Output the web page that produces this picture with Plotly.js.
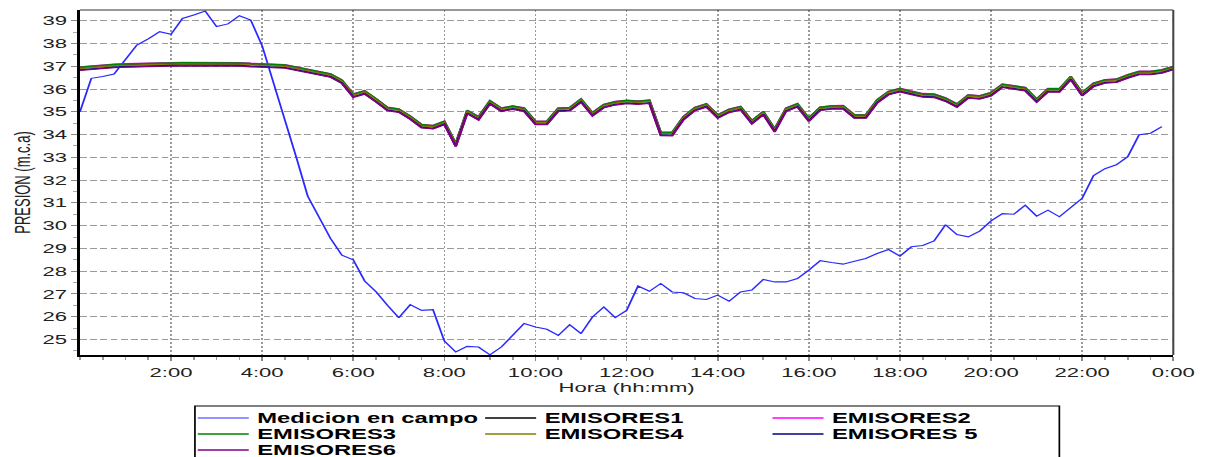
<!DOCTYPE html>
<html><head><meta charset="utf-8">
<script src="https://cdn.plot.ly/plotly-3.0.1.min.js"></script>
<style>
html,body{margin:0;padding:0;background:#fff;overflow:hidden;}
#wrap{width:711px;height:480px;transform:scaleX(1.70042);transform-origin:0 0;}
</style></head><body>
<div id="wrap"></div>
<script>
// time of day in hours (15-minute sampling)
const hours = [0,0.25,0.5,0.75,1,1.25,1.5,1.75,2,2.25,2.5,2.75,3,3.25,3.5,3.75,4,4.25,4.5,4.75,5,5.25,5.5,5.75,6,6.25,6.5,6.75,7,7.25,7.5,7.75,8,8.25,8.5,8.75,9,9.25,9.5,9.75,10,10.25,10.5,10.75,11,11.25,11.5,11.75,12,12.25,12.5,12.75,13,13.25,13.5,13.75,14,14.25,14.5,14.75,15,15.25,15.5,15.75,16,16.25,16.5,16.75,17,17.25,17.5,17.75,18,18.25,18.5,18.75,19,19.25,19.5,19.75,20,20.25,20.5,20.75,21,21.25,21.5,21.75,22,22.25,22.5,22.75,23,23.25,23.5,23.75,24];

const medicionEnCampo = [35.00,36.47,36.55,36.66,37.30,37.93,38.20,38.52,38.40,39.10,39.25,39.42,38.74,38.86,39.22,39.03,37.90,36.30,34.65,33.00,31.30,30.40,29.44,28.70,28.50,27.57,27.10,26.50,25.96,26.53,26.28,26.31,24.93,24.45,24.70,24.67,24.33,24.67,25.18,25.70,25.55,25.45,25.18,25.65,25.26,25.99,26.43,25.96,26.28,27.35,27.12,27.46,27.09,27.05,26.80,26.76,26.95,26.68,27.09,27.17,27.64,27.53,27.53,27.68,28.05,28.46,28.38,28.31,28.44,28.56,28.78,28.95,28.66,29.07,29.13,29.33,30.04,29.61,29.51,29.76,30.21,30.53,30.50,30.90,30.42,30.68,30.39,30.80,31.20,32.20,32.50,32.67,33.03,33.99,34.06,34.35];

const emisores1 = [36.94,36.99,37.02,37.06,37.08,37.10,37.11,37.12,37.13,37.14,37.14,37.14,37.14,37.14,37.13,37.10,37.07,37.06,37.04,36.94,36.84,36.76,36.64,36.37,35.76,35.90,35.56,35.17,35.10,34.79,34.42,34.37,34.56,33.59,35.04,34.76,35.46,35.14,35.23,35.14,34.56,34.56,35.14,35.16,35.54,34.94,35.30,35.42,35.48,35.45,35.49,34.08,34.07,34.77,35.17,35.33,34.84,35.09,35.21,34.59,34.99,34.23,35.14,35.33,34.70,35.18,35.24,35.25,34.84,34.84,35.50,35.87,36.00,35.87,35.77,35.75,35.58,35.32,35.72,35.68,35.82,36.19,36.13,36.04,35.54,35.99,35.99,36.53,35.82,36.23,36.38,36.41,36.60,36.75,36.75,36.82,36.97];

const emisores2 = [36.97,37.02,37.05,37.09,37.11,37.13,37.14,37.15,37.16,37.17,37.17,37.17,37.17,37.17,37.16,37.13,37.10,37.09,37.07,36.97,36.87,36.79,36.67,36.40,35.79,35.93,35.59,35.20,35.13,34.82,34.45,34.40,34.59,33.62,35.07,34.79,35.49,35.17,35.26,35.17,34.59,34.59,35.17,35.19,35.57,34.97,35.33,35.45,35.51,35.48,35.52,34.11,34.10,34.80,35.20,35.36,34.87,35.12,35.24,34.62,35.02,34.26,35.17,35.36,34.73,35.21,35.27,35.28,34.87,34.87,35.53,35.90,36.03,35.90,35.80,35.78,35.61,35.35,35.75,35.71,35.85,36.22,36.16,36.07,35.57,36.02,36.02,36.56,35.85,36.26,36.41,36.44,36.63,36.78,36.78,36.85,37.00];

const emisores3 = [36.96,37.01,37.04,37.08,37.10,37.12,37.13,37.14,37.15,37.16,37.16,37.16,37.16,37.16,37.15,37.12,37.09,37.08,37.06,36.96,36.86,36.78,36.66,36.39,35.78,35.92,35.58,35.19,35.12,34.81,34.44,34.39,34.58,33.61,35.06,34.78,35.48,35.16,35.25,35.16,34.58,34.58,35.16,35.18,35.56,34.96,35.32,35.44,35.50,35.47,35.51,34.10,34.09,34.79,35.19,35.35,34.86,35.11,35.23,34.61,35.01,34.25,35.16,35.35,34.72,35.20,35.26,35.27,34.86,34.86,35.52,35.89,36.02,35.89,35.79,35.77,35.60,35.34,35.74,35.70,35.84,36.21,36.15,36.06,35.56,36.01,36.01,36.55,35.84,36.25,36.40,36.43,36.62,36.77,36.77,36.84,36.99];

const emisores4 = [36.90,36.95,36.98,37.02,37.04,37.06,37.07,37.08,37.09,37.10,37.10,37.10,37.10,37.10,37.09,37.06,37.03,37.02,37.00,36.90,36.80,36.72,36.60,36.33,35.72,35.86,35.52,35.13,35.06,34.75,34.38,34.33,34.52,33.55,35.00,34.72,35.42,35.10,35.19,35.10,34.52,34.52,35.10,35.12,35.50,34.90,35.26,35.38,35.44,35.41,35.45,34.04,34.03,34.73,35.13,35.29,34.80,35.05,35.17,34.55,34.95,34.19,35.10,35.29,34.66,35.14,35.20,35.21,34.80,34.80,35.46,35.83,35.96,35.83,35.73,35.71,35.54,35.28,35.68,35.64,35.78,36.15,36.09,36.00,35.50,35.95,35.95,36.49,35.78,36.19,36.34,36.37,36.56,36.71,36.71,36.78,36.93];

const emisores5 = [36.84,36.89,36.92,36.96,36.98,37.00,37.01,37.02,37.03,37.04,37.04,37.04,37.04,37.04,37.03,37.00,36.97,36.96,36.94,36.84,36.74,36.66,36.54,36.27,35.66,35.80,35.46,35.07,35.00,34.69,34.32,34.27,34.46,33.49,34.94,34.66,35.36,35.04,35.13,35.04,34.46,34.46,35.04,35.06,35.44,34.84,35.20,35.32,35.38,35.35,35.39,33.98,33.97,34.67,35.07,35.23,34.74,34.99,35.11,34.49,34.89,34.13,35.04,35.23,34.60,35.08,35.14,35.15,34.74,34.74,35.40,35.77,35.90,35.77,35.67,35.65,35.48,35.22,35.62,35.58,35.72,36.09,36.03,35.94,35.44,35.89,35.89,36.43,35.72,36.13,36.28,36.31,36.50,36.65,36.65,36.72,36.87];

const emisores6 = [36.82,36.87,36.90,36.94,36.96,36.98,36.99,37.00,37.01,37.02,37.02,37.02,37.02,37.02,37.01,36.98,36.95,36.94,36.92,36.82,36.72,36.64,36.52,36.25,35.64,35.78,35.44,35.05,34.98,34.67,34.30,34.25,34.44,33.47,34.92,34.64,35.34,35.02,35.11,35.02,34.44,34.44,35.02,35.04,35.42,34.82,35.18,35.30,35.36,35.33,35.37,33.96,33.95,34.65,35.05,35.21,34.72,34.97,35.09,34.47,34.87,34.11,35.02,35.21,34.58,35.06,35.12,35.13,34.72,34.72,35.38,35.75,35.88,35.75,35.65,35.63,35.46,35.20,35.60,35.56,35.70,36.07,36.01,35.92,35.42,35.87,35.87,36.41,35.70,36.11,36.26,36.29,36.48,36.63,36.63,36.70,36.85];

const seriesNames = ["Medicion en campo","EMISORES1","EMISORES2","EMISORES3","EMISORES4","EMISORES 5","EMISORES6"];
const xTickValues = [2,4,6,8,10,12,14,16,18,20,22,24];
const xTickLabels = ["2:00","4:00","6:00","8:00","10:00","12:00","14:00","16:00","18:00","20:00","22:00","0:00"];
const yTickValues = [25,26,27,28,29,30,31,32,33,34,35,36,37,38,39];

const FONT = "Liberation Sans, Arial, sans-serif";
const seriesStyle = [
  {data: medicionEnCampo, color: "#2a2aff", width: 1.1, legend: "legend"},
  {data: emisores1, color: "#000000", width: 1.4, legend: "legend"},
  {data: emisores2, color: "#ff00ff", width: 1.4, legend: "legend"},
  {data: emisores3, color: "#008000", width: 1.4, legend: "legend2"},
  {data: emisores4, color: "#808000", width: 1.4, legend: "legend2"},
  {data: emisores5, color: "#000080", width: 1.4, legend: "legend2"},
  {data: emisores6, color: "#800080", width: 1.4, legend: "legend3"}
];
const traces = seriesStyle.map((s, i) => ({
  type: "scatter", mode: "lines",
  x: hours.slice(0, s.data.length), y: s.data,
  name: seriesNames[i], legend: s.legend,
  line: {color: s.color, width: s.width}
}));

const legendBase = {
  x: 0.1, xanchor: "left", yanchor: "top", orientation: "h",
  entrywidth: 124, entrywidthmode: "pixels", itemwidth: 30,
  bgcolor: "rgba(0,0,0,0)", borderwidth: 0, traceorder: "normal",
  font: {family: FONT, size: 14, color: "#000", weight: "bold"}
};

const layout = {
  width: 711, height: 480,
  margin: {l: 47, r: 21, t: 10, b: 125, autoexpand: false},
  paper_bgcolor: "#fff", plot_bgcolor: "#fff",
  xaxis: {
    range: [0, 24], tickvals: xTickValues, ticktext: xTickLabels,
    ticks: "outside", ticklen: 4, tickwidth: 1, tickcolor: "#888",
    showgrid: true, gridcolor: "#9a9a9a", gridwidth: 1, griddash: "2px,2px",
    showline: true, linecolor: "#000", linewidth: 2, zeroline: false, automargin: false,
    minor: {dtick: 0.5, tick0: 0, ticks: "outside", ticklen: 3, tickcolor: "#999", showgrid: false},
    tickfont: {family: FONT, size: 13, color: "#222"},
    title: {text: "Hora (hh:mm)", font: {family: FONT, size: 13, color: "#222"}, standoff: 0}
  },
  yaxis: {
    range: [24.32, 39.47], tickvals: yTickValues,
    ticks: "outside", ticklen: 3, tickwidth: 1, tickcolor: "#888",
    showgrid: true, gridcolor: "#9a9a9a", gridwidth: 1, griddash: "4px,2px",
    showline: true, linecolor: "#000", linewidth: 2, zeroline: false, automargin: false,
    minor: {dtick: 0.5, ticks: "outside", ticklen: 2, tickcolor: "#aaa", showgrid: false},
    tickfont: {family: FONT, size: 13, color: "#222"},
    title: {text: "PRESION (m.c.a)", font: {family: FONT, size: 13, color: "#222"}, standoff: 4}
  },
  legend: Object.assign({}, legendBase, {y: -0.1374}),
  legend2: Object.assign({}, legendBase, {y: -0.1838}),
  legend3: Object.assign({}, legendBase, {y: -0.2301}),
  shapes: [
    {type: "line", xref: "paper", yref: "paper", x0: 0, x1: 1, y0: 1, y1: 1, line: {color: "#333", width: 1}, layer: "above"},
    {type: "line", xref: "paper", yref: "paper", x0: 1, x1: 1, y0: 0, y1: 1, line: {color: "#444", width: 1.2}, layer: "above"},
    {type: "rect", xref: "paper", yref: "paper", x0: 0.1052, x1: 0.8958, y0: -0.148, y1: -0.45, line: {color: "#000", width: 1}, fillcolor: "rgba(0,0,0,0)", layer: "above"}
  ],
  showlegend: true
};

Plotly.newPlot("wrap", traces, layout, {staticPlot: true, displayModeBar: false});
</script>
</body></html>
